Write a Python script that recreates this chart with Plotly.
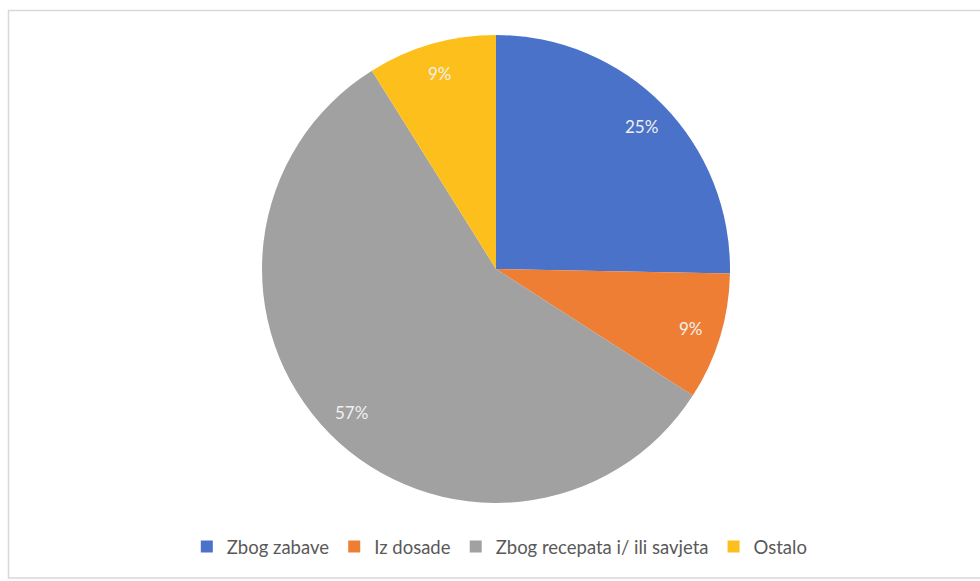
import math
import plotly.graph_objects as go

categories = ["Zbog zabave", "Iz dosade", "Zbog recepata i/ ili savjeta", "Ostalo"]
values = [25.3, 8.8, 57.0, 8.9]
colors = ["#4a72c9", "#ef7e35", "#a1a1a1", "#fcbf1c"]

W, H = 980, 581
cx, cy, r = 496, 269, 234
label_r = 0.87

fig = go.Figure(go.Pie(
    labels=categories,
    values=values,
    sort=False,
    direction="clockwise",
    rotation=0,
    marker=dict(colors=colors, line=dict(width=0)),
    textinfo="none",
    hoverinfo="label+percent",
    domain=dict(x=[(cx - r) / W, (cx + r) / W], y=[1 - (cy + r) / H, 1 - (cy - r) / H]),
))

# percentage labels placed along each slice's mid-angle
total = sum(values)
annotations = []
cum = 0.0
for v in values:
    mid = (cum + v / 2) / total * 2 * math.pi
    cum += v
    px = cx + label_r * r * math.sin(mid)
    py = cy - label_r * r * math.cos(mid)
    annotations.append(dict(
        x=px / W, y=1 - py / H, xref="paper", yref="paper",
        text=f"{round(v / total * 100)}%", showarrow=False,
        font=dict(family="Lato", size=17, color="#f0f0f0"),
        xanchor="center", yanchor="middle",
    ))

fig.update_layout(
    width=W, height=H,
    margin=dict(l=0, r=0, t=0, b=0),
    paper_bgcolor="white",
    plot_bgcolor="white",
    showlegend=True,
    annotations=annotations,
    legend=dict(
        orientation="h",
        x=0.51, xanchor="center",
        y=1 - 547 / H, yanchor="middle",
        font=dict(family="Lato", size=18.5, color="#595959"),
        itemwidth=30,
        traceorder="normal",
    ),
    shapes=[dict(
        type="rect", xref="paper", yref="paper",
        x0=8.5 / W, x1=1.02, y0=1 - 578 / H, y1=1 - 10.5 / H,
        line=dict(color="#d9d9d9", width=1.5), fillcolor="rgba(0,0,0,0)", layer="below",
    )],
)

fig.write_html(
    "out.html",
    config={"displayModeBar": False},
    post_script="document.body.style.margin='0';document.body.style.overflow='hidden';",
)
